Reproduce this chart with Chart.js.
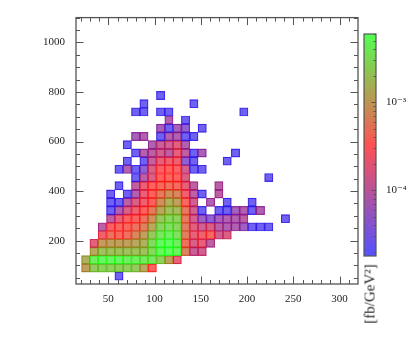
<!DOCTYPE html>
<html>
<head>
<meta charset="utf-8">
<script src="https://cdn.jsdelivr.net/npm/chart.js@4.4.1/dist/chart.umd.min.js"></script>
<style>
  html, body { margin: 0; padding: 0; background: #fff; }
  #wrap { position: relative; width: 416px; height: 345px; overflow: hidden; }
  #main { position: absolute; left: 0; top: 0; }
  #cbar { position: absolute; left: 355px; top: 0; }
  #unit {
    position: absolute; left: 370px; top: 294px;
    transform: translate(-50%, -50%) rotate(-90deg);
    font: 15px "Liberation Serif", serif; color: #222; white-space: nowrap;
  }
</style>
</head>
<body>
<div id="wrap">
  <canvas id="main" width="416" height="345"></canvas>
  <canvas id="cbar" width="61" height="345"></canvas>
  <div id="unit">[fb/GeV²]</div>
</div>
<script>
// Histogram binning (lower edge + width of each bin)
const xFirstEdge = 21, xBinWidth = 9;
const yFirstEdge = 40, yBinHeight = 33.15;

// Axis ticks
const xMajorTicks = [50, 100, 150, 200, 250, 300];
const yMajorTicks = [200, 400, 600, 800, 1000];
const colourTicks = [1e-4, 1e-3];

// Colour scale range [fb/GeV^2]
const zMin = 1.8e-5, zMax = 6.0e-3;

// Density per cell, one list per y bin (bottom row first), one entry per x bin; 0 = empty
const density = [
  [0, 0, 0, 0, 2.4e-5],
  [1.05e-3, 2.25e-3, 2.5e-3, 2.5e-3, 2.5e-3, 2.5e-3, 2.25e-3, 1.2e-3, 3.3e-4],
  [1.4e-3, 4.5e-3, 5.1e-3, 5.1e-3, 5.1e-3, 4.5e-3, 4.5e-3, 4.0e-3, 3.8e-3, 2.5e-3, 1.05e-3, 2.1e-4],
  [0, 1.2e-3, 1.9e-3, 1.9e-3, 1.9e-3, 1.9e-3, 1.9e-3, 1.9e-3, 3.0e-3, 5.1e-3, 5.9e-3, 5.1e-3, 6.6e-4, 1.24e-4, 1.4e-4],
  [0, 1.9e-4, 9.4e-4, 1.05e-3, 1.05e-3, 1.05e-3, 1.2e-3, 1.4e-3, 3.0e-3, 5.4e-3, 5.9e-3, 4.5e-3, 4.4e-4, 1.65e-4, 2.1e-4, 1.0e-4],
  [0, 0, 2.5e-4, 4.4e-4, 3.7e-4, 4.4e-4, 6.6e-4, 1.05e-3, 2.1e-3, 3.8e-3, 4.5e-3, 3.4e-3, 5.9e-4, 2.1e-4, 2.5e-4, 3.7e-4, 1.4e-4, 1.65e-4],
  [0, 0, 9.2e-5, 3.0e-4, 3.7e-4, 3.7e-4, 4.4e-4, 5.9e-4, 1.2e-3, 2.8e-3, 3.4e-3, 2.8e-3, 5.9e-4, 1.9e-4, 1.4e-4, 1.65e-4, 9.2e-5, 7.7e-5, 7.7e-5, 5.8e-5, 2.4e-5, 2.4e-5, 2.4e-5],
  [0, 0, 0, 1.0e-4, 2.1e-4, 3.3e-4, 3.3e-4, 4.4e-4, 7.9e-4, 2.1e-3, 2.8e-3, 2.5e-3, 5.3e-4, 1.4e-4, 5.8e-5, 4.3e-5, 6.5e-5, 7.7e-5, 7.7e-5, 9.2e-5, 0, 0, 0, 0, 2.4e-5],
  [0, 0, 0, 2.4e-5, 7.7e-5, 1.65e-4, 2.5e-4, 3.3e-4, 5.3e-4, 1.2e-3, 1.9e-3, 1.7e-3, 5.3e-4, 1.4e-4, 2.4e-5, 0, 2.4e-5, 2.4e-5, 6.5e-5, 7.7e-5, 2.4e-5, 7.7e-5],
  [0, 0, 0, 2.4e-5, 2.4e-5, 9.2e-5, 1.65e-4, 2.5e-4, 3.3e-4, 7.9e-4, 1.4e-3, 1.05e-3, 3.7e-4, 1.4e-4, 0, 7.7e-5, 0, 2.4e-5, 0, 0, 2.4e-5],
  [0, 0, 0, 2.4e-5, 0, 2.4e-5, 7.7e-5, 2.1e-4, 3.3e-4, 5.3e-4, 7.9e-4, 6.6e-4, 2.5e-4, 1.0e-4, 2.4e-5, 0, 9.2e-5],
  [0, 0, 0, 0, 2.4e-5, 0, 1.0e-4, 2.1e-4, 3.3e-4, 3.9e-4, 4.4e-4, 3.9e-4, 2.1e-4, 1.0e-4, 0, 0, 9.2e-5],
  [0, 0, 0, 0, 0, 0, 2.4e-5, 9.2e-5, 1.65e-4, 3.3e-4, 3.7e-4, 3.3e-4, 1.65e-4, 0, 0, 0, 0, 0, 0, 0, 0, 0, 2.4e-5],
  [0, 0, 0, 0, 2.4e-5, 7.7e-5, 2.4e-5, 4.3e-5, 1.65e-4, 3.0e-4, 3.3e-4, 3.0e-4, 1.4e-4, 2.4e-5, 2.4e-5],
  [0, 0, 0, 0, 0, 2.4e-5, 0, 2.4e-5, 1.16e-4, 2.1e-4, 2.5e-4, 2.5e-4, 4.3e-5, 2.4e-5, 0, 0, 0, 2.4e-5],
  [0, 0, 0, 0, 0, 0, 2.4e-5, 7.7e-5, 9.2e-5, 1.4e-4, 1.0e-4, 2.1e-4, 1.0e-4, 2.4e-5, 6.5e-5, 0, 0, 0, 2.4e-5],
  [0, 0, 0, 0, 0, 2.4e-5, 0, 0, 7.7e-5, 1.16e-4, 1.4e-4, 1.9e-4, 7.7e-5],
  [0, 0, 0, 0, 0, 0, 6.5e-5, 7.7e-5, 0, 2.4e-5, 7.7e-5, 7.7e-5, 2.4e-5, 2.4e-5],
  [0, 0, 0, 0, 0, 0, 0, 0, 0, 6.5e-5, 2.4e-5, 6.5e-5, 4.3e-5, 0, 2.4e-5],
  [0, 0, 0, 0, 0, 0, 0, 0, 0, 0, 7.7e-5, 0, 2.4e-5],
  [0, 0, 0, 0, 0, 0, 2.4e-5, 2.4e-5, 0, 2.4e-5, 2.4e-5, 0, 0, 0, 0, 0, 0, 0, 0, 2.4e-5],
  [0, 0, 0, 0, 0, 0, 0, 2.4e-5, 0, 0, 0, 0, 0, 2.4e-5],
  [0, 0, 0, 0, 0, 0, 0, 0, 0, 2.4e-5]
];

// blue -> red -> green, linear in log10(density)
function colour(v, alpha) {
  let t = (Math.log10(v) - Math.log10(zMin)) / (Math.log10(zMax) - Math.log10(zMin));
  t = Math.max(0, Math.min(1, t));
  let r, g, b;
  if (t < 0.5) { r = 510 * t; g = 0; b = 255 * (1 - 2 * t); }
  else { r = 255 * (2 - 2 * t); g = 255 * (2 * t - 1); b = 0; }
  return `rgba(${Math.round(r)}, ${Math.round(g)}, ${Math.round(b)}, ${alpha})`;
}

const cells = [];
density.forEach((row, j) => {
  row.forEach((v, i) => {
    if (!v) return;
    const y0 = yFirstEdge + j * yBinHeight;
    cells.push({ x: xFirstEdge + (i + 0.5) * xBinWidth, y: [y0, y0 + yBinHeight], v });
  });
});

const serif = { family: '"Liberation Serif", "DejaVu Serif", serif', size: 11 };
const inkColour = '#555';

// inward ticks on all four sides + frame
const frameTicks = {
  id: 'frameTicks',
  afterDatasetsDraw(chart) {
    const { ctx, chartArea: a, scales: { x, y } } = chart;
    ctx.save();
    ctx.strokeStyle = inkColour;
    ctx.lineWidth = 1;
    ctx.beginPath();
    for (let v = 20; v <= 310; v += 10) {
      const len = xMajorTicks.includes(v) ? 7.5 : 4;
      const px = Math.round(x.getPixelForValue(v)) + 0.5;
      ctx.moveTo(px, a.bottom); ctx.lineTo(px, a.bottom - len);
      ctx.moveTo(px, a.top); ctx.lineTo(px, a.top + len);
    }
    for (let v = 50; v <= 1100; v += 50) {
      const len = yMajorTicks.includes(v) ? 7.5 : 4;
      const py = Math.round(y.getPixelForValue(v)) + 0.5;
      ctx.moveTo(a.left, py); ctx.lineTo(a.left + len, py);
      ctx.moveTo(a.right, py); ctx.lineTo(a.right - len, py);
    }
    ctx.stroke();
    ctx.lineWidth = 1.3;
    ctx.strokeRect(a.left, a.top, a.right - a.left, a.bottom - a.top);
    ctx.restore();
  }
};

new Chart(document.getElementById('main'), {
  type: 'bar',
  data: {
    datasets: [{
      data: cells.map(c => ({ x: c.x, y: c.y })),
      backgroundColor: cells.map(c => colour(c.v, 0.62)),
      borderColor: cells.map(c => colour(c.v, 0.74)),
      borderWidth: 0.5,
      borderSkipped: false,
      categoryPercentage: 1,
      barPercentage: 1
    }]
  },
  options: {
    responsive: false,
    animation: false,
    layout: { padding: { top: 6, right: 58, bottom: 30, left: 0 } },
    plugins: { legend: { display: false }, tooltip: { enabled: false } },
    scales: {
      x: {
        type: 'linear', min: 15, max: 320, offset: false,
        grid: { display: false, drawTicks: false, offset: false },
        border: { display: false },
        afterBuildTicks: s => { s.ticks = xMajorTicks.map(v => ({ value: v })); },
        afterFit: s => { s.height = 31; },
        ticks: { padding: 9, font: serif, color: '#222', maxRotation: 0, callback: v => String(v) }
      },
      y: {
        type: 'linear', min: 25, max: 1100,
        grid: { display: false, drawTicks: false },
        border: { display: false },
        afterBuildTicks: s => { s.ticks = yMajorTicks.map(v => ({ value: v })); },
        afterFit: s => { s.width = 76; },
        ticks: { padding: 11, font: serif, color: '#222', callback: v => String(v) }
      }
    }
  },
  plugins: [frameTicks]
});

// colour bar
const barTicks = {
  id: 'barTicks',
  afterDatasetsDraw(chart) {
    const { ctx, chartArea: a, scales: { y } } = chart;
    ctx.save();
    ctx.strokeStyle = inkColour;
    ctx.lineWidth = 1;
    ctx.beginPath();
    for (let e = -5; e <= -3; e++) {
      for (let m = 1; m <= 9; m++) {
        const v = m * Math.pow(10, e);
        if (v < zMin || v > zMax) continue;
        const py = Math.round(y.getPixelForValue(v)) + 0.5;
        const len = m === 1 ? 4.5 : 2.5;
        ctx.moveTo(a.right, py); ctx.lineTo(a.right - len, py);
      }
    }
    ctx.stroke();
    ctx.lineWidth = 1.2;
    ctx.strokeRect(a.left, a.top, a.right - a.left, a.bottom - a.top);
    ctx.restore();
  }
};

new Chart(document.getElementById('cbar'), {
  type: 'bar',
  data: {
    labels: [''],
    datasets: [{
      data: [[zMin, zMax]],
      backgroundColor: c => {
        const { ctx, chartArea } = c.chart;
        if (!chartArea) return 'rgba(0,0,0,0)';
        const g = ctx.createLinearGradient(0, chartArea.bottom, 0, chartArea.top);
        g.addColorStop(0, colour(zMin, 0.68));
        g.addColorStop(0.5, colour(Math.sqrt(zMin * zMax), 0.68));
        g.addColorStop(1, colour(zMax, 0.68));
        return g;
      },
      borderWidth: 0,
      categoryPercentage: 1,
      barPercentage: 1
    }]
  },
  options: {
    responsive: false,
    animation: false,
    layout: { padding: { top: 34, right: 0, bottom: 89, left: 9 } },
    plugins: { legend: { display: false }, tooltip: { enabled: false } },
    scales: {
      x: { display: false },
      y: {
        type: 'logarithmic', position: 'right', min: zMin, max: zMax,
        grid: { display: false, drawTicks: false },
        border: { display: false },
        afterBuildTicks: s => { s.ticks = colourTicks.map(v => ({ value: v })); },
        afterFit: s => { s.width = 40; },
        ticks: {
          padding: 10, font: serif, color: '#222',
          callback: v => '10' + (Math.round(Math.log10(v)) === -3 ? '⁻³' : '⁻⁴')
        }
      }
    }
  },
  plugins: [barTicks]
});
</script>
</body>
</html>
